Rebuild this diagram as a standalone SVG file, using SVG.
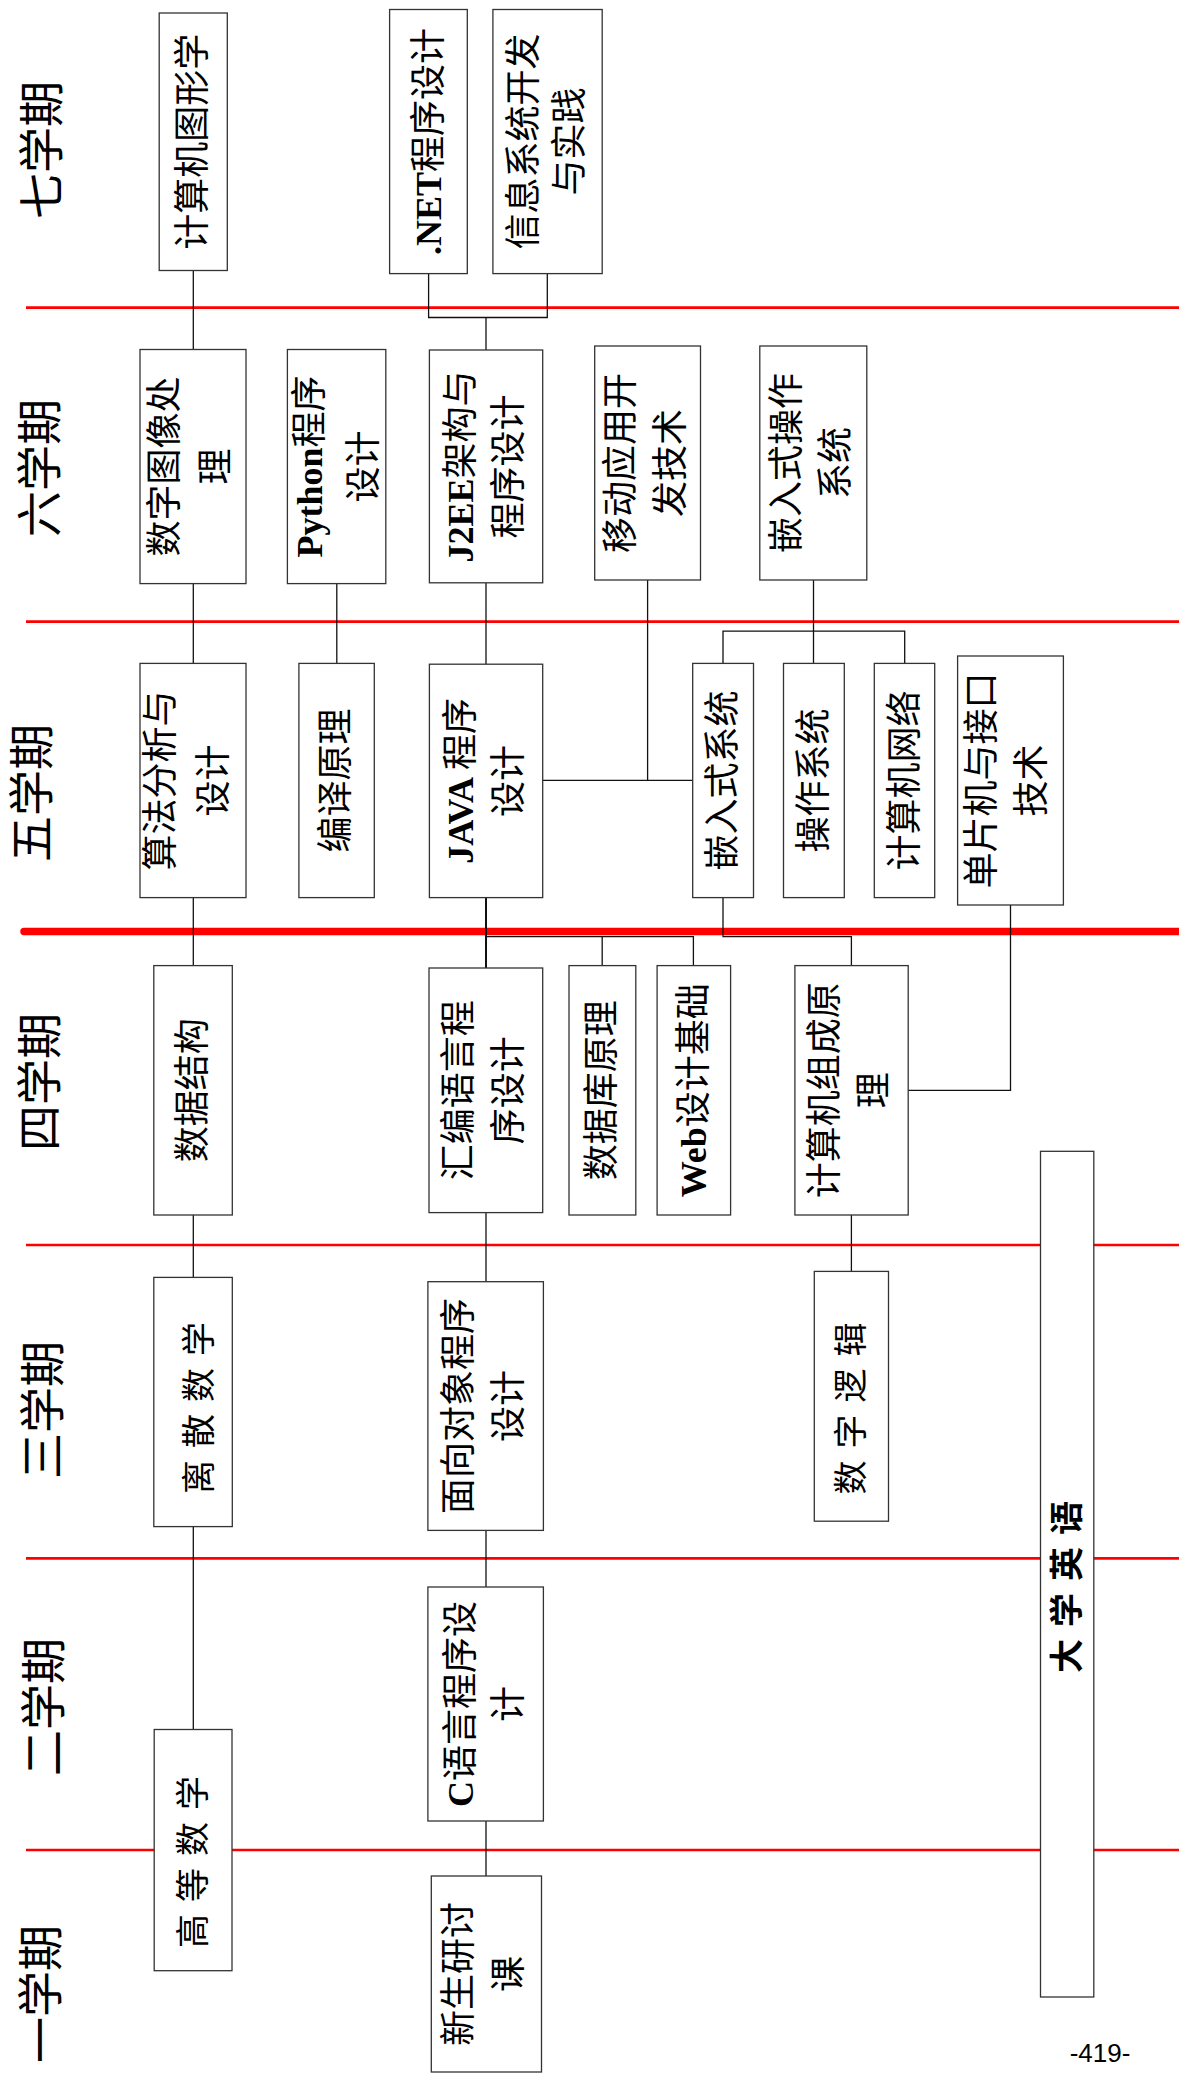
<svg xmlns="http://www.w3.org/2000/svg" width="1179" height="2074" viewBox="0 0 1179 2074">
<style>
.bg{fill:#fff}
.red{stroke:#ff0000;stroke-width:2.6;fill:none}
.redt{stroke:#ff0000;stroke-width:7.5;fill:none;stroke-linecap:round}
.c{stroke:#111;stroke-width:1.3;fill:none}
.box{fill:#fff;stroke:#333;stroke-width:1.3}
.t{font-family:"Liberation Serif","Noto Sans CJK SC",serif;font-size:36px;fill:#000;text-anchor:middle;dominant-baseline:central}
.sem{font-family:"Liberation Serif","Noto Sans CJK SC",serif;font-size:46px;fill:#000;text-anchor:middle;dominant-baseline:central}
.sp{font-size:34px;letter-spacing:12px}
.en{font-family:"Liberation Sans","Noto Sans CJK SC",sans-serif;font-size:34px;font-weight:bold;fill:#000;text-anchor:middle;dominant-baseline:central;letter-spacing:12px}
.b{font-weight:bold}
.pg{font-family:"Liberation Sans",sans-serif;font-size:26px;fill:#000;text-anchor:middle}
</style>
<rect class="bg" x="0" y="0" width="1179" height="2074"/>

<g id="semester-lines">
<line class="red" x1="26" y1="307.6" x2="1179" y2="307.6"/>
<line class="red" x1="26" y1="621.6" x2="1179" y2="621.6"/>
<line class="redt" x1="24" y1="931.6" x2="1182" y2="931.6"/>
<line class="red" x1="26" y1="1245" x2="1179" y2="1245"/>
<line class="red" x1="26" y1="1558.4" x2="1179" y2="1558.4"/>
<line class="red" x1="26" y1="1850" x2="1179" y2="1850"/>
</g>

<g id="semester-labels">
<text class="sem" transform="translate(42,150) rotate(-90)">七学期</text>
<text class="sem" transform="translate(40,468) rotate(-90)">六学期</text>
<text class="sem" transform="translate(32,793) rotate(-90)">五学期</text>
<text class="sem" transform="translate(40,1082) rotate(-90)">四学期</text>
<text class="sem" transform="translate(43,1410) rotate(-90)">三学期</text>
<text class="sem" transform="translate(44,1707) rotate(-90)">二学期</text>
<text class="sem" transform="translate(41,1994) rotate(-90)">一学期</text>
</g>

<g id="connectors">
<line class="c" x1="193.3" y1="270.5" x2="193.3" y2="349.5"/>
<polyline class="c" points="428.6,273.6 428.6,317.5 547.3,317.5 547.3,273.6"/>
<line class="c" x1="486" y1="317.5" x2="486" y2="350"/>
<line class="c" x1="193.3" y1="583.6" x2="193.3" y2="663.4"/>
<line class="c" x1="336.8" y1="583.6" x2="336.8" y2="663.4"/>
<line class="c" x1="486" y1="582.8" x2="486" y2="664.2"/>
<line class="c" x1="647.6" y1="580" x2="647.6" y2="780.3"/>
<line class="c" x1="542.7" y1="780.3" x2="692.7" y2="780.3"/>
<line class="c" x1="813.5" y1="580" x2="813.5" y2="663.4"/>
<polyline class="c" points="723,663.4 723,631.1 904.7,631.1 904.7,663.4"/>
<line class="c" x1="193.3" y1="897.6" x2="193.3" y2="965.6"/>
<line class="c" x1="486" y1="897.6" x2="486" y2="968" style="stroke-width:2"/>
<polyline class="c" points="486,936.6 693.4,936.6 693.4,965.6"/>
<line class="c" x1="602.2" y1="936.6" x2="602.2" y2="965.6"/>
<polyline class="c" points="723,897.6 723,936.6 851.4,936.6 851.4,965.6"/>
<polyline class="c" points="1010.5,905 1010.5,1090.4 908.2,1090.4"/>
<line class="c" x1="193.3" y1="1215" x2="193.3" y2="1277.4"/>
<line class="c" x1="486" y1="1212.6" x2="486" y2="1281.7"/>
<line class="c" x1="851.4" y1="1215" x2="851.4" y2="1271.4"/>
<line class="c" x1="193.3" y1="1526.6" x2="193.3" y2="1729.5"/>
<line class="c" x1="486" y1="1530.4" x2="486" y2="1587"/>
<line class="c" x1="486" y1="1821" x2="486" y2="1876"/>
</g>

<g id="n-graphics"><rect class="box" x="159.2" y="13" width="68.1" height="257.5"/>
<text class="t" transform="translate(193.3,141.7) rotate(-90)">计算机图形学</text></g>
<g id="n-dotnet"><rect class="box" x="389.6" y="9.5" width="77.7" height="264.1"/>
<text class="t" transform="translate(428.6,141.5) rotate(-90)"><tspan class="b">.NET</tspan>程序设计</text></g>
<g id="n-infosys"><rect class="box" x="492.9" y="9.5" width="109.3" height="264.1"/>
<text class="t" transform="translate(524.3,141.5) rotate(-90)">信息系统开发</text>
<text class="t" transform="translate(570.2,141.5) rotate(-90)">与实践</text></g>

<g id="n-dip"><rect class="box" x="140" y="349.5" width="106" height="234.1"/>
<text class="t" transform="translate(164.6,466.5) rotate(-90)">数字图像处</text>
<text class="t" transform="translate(216.2,466.5) rotate(-90)">理</text></g>
<g id="n-python"><rect class="box" x="287.4" y="349.5" width="98.4" height="234.1"/>
<text class="t" transform="translate(310,466.5) rotate(-90)"><tspan class="b">Python</tspan>程序</text>
<text class="t" transform="translate(363.6,466.5) rotate(-90)">设计</text></g>
<g id="n-j2ee"><rect class="box" x="429.4" y="350" width="113.3" height="232.8"/>
<text class="t" transform="translate(461.2,466.4) rotate(-90)"><tspan class="b">J2EE</tspan>架构与</text>
<text class="t" transform="translate(509,466.4) rotate(-90)">程序设计</text></g>
<g id="n-mobile"><rect class="box" x="594.7" y="346" width="105.8" height="234"/>
<text class="t" transform="translate(621.2,463) rotate(-90)">移动应用开</text>
<text class="t" transform="translate(670.5,463) rotate(-90)">发技术</text></g>
<g id="n-embos"><rect class="box" x="759.8" y="346" width="107" height="234"/>
<text class="t" transform="translate(787,463) rotate(-90)">嵌入式操作</text>
<text class="t" transform="translate(836.4,463) rotate(-90)">系统</text></g>

<g id="n-algo"><rect class="box" x="140" y="663.4" width="106" height="234.2"/>
<text class="t" transform="translate(160.7,780.5) rotate(-90)">算法分析与</text>
<text class="t" transform="translate(214.3,780.5) rotate(-90)">设计</text></g>
<g id="n-compiler"><rect class="box" x="298.9" y="663.4" width="75.4" height="234.2"/>
<text class="t" transform="translate(335.5,780.5) rotate(-90)">编译原理</text></g>
<g id="n-java"><rect class="box" x="429.4" y="664.2" width="113.3" height="233.4"/>
<text class="t" transform="translate(461.2,780.9) rotate(-90)"><tspan class="b">JAVA </tspan>程序</text>
<text class="t" transform="translate(509,780.9) rotate(-90)">设计</text></g>
<g id="n-embsys"><rect class="box" x="692.7" y="663.4" width="60.8" height="234.2"/>
<text class="t" transform="translate(723,780.5) rotate(-90)">嵌入式系统</text></g>
<g id="n-os"><rect class="box" x="783.5" y="663.4" width="60.8" height="234.2"/>
<text class="t" transform="translate(813.9,780.5) rotate(-90)">操作系统</text></g>
<g id="n-network"><rect class="box" x="874.3" y="663.4" width="60.4" height="234.2"/>
<text class="t" transform="translate(904.5,780.5) rotate(-90)">计算机网络</text></g>
<g id="n-mcu"><rect class="box" x="957.6" y="656" width="105.8" height="249"/>
<text class="t" transform="translate(982.4,780.5) rotate(-90)">单片机与接口</text>
<text class="t" transform="translate(1031.8,780.5) rotate(-90)">技术</text></g>

<g id="n-ds"><rect class="box" x="153.8" y="965.6" width="78.5" height="249.4"/>
<text class="t" transform="translate(193.3,1090.3) rotate(-90)">数据结构</text></g>
<g id="n-asm"><rect class="box" x="429" y="968" width="113.7" height="244.6"/>
<text class="t" transform="translate(459.2,1090.3) rotate(-90)">汇编语言程</text>
<text class="t" transform="translate(509,1090.3) rotate(-90)">序设计</text></g>
<g id="n-db"><rect class="box" x="569" y="965.6" width="66.8" height="249.4"/>
<text class="t" transform="translate(602.4,1090.3) rotate(-90)">数据库原理</text></g>
<g id="n-web"><rect class="box" x="657.1" y="965.6" width="73.5" height="249.4"/>
<text class="t" transform="translate(693.9,1090.3) rotate(-90)"><tspan class="b">Web</tspan>设计基础</text></g>
<g id="n-coa"><rect class="box" x="794.9" y="965.6" width="113.3" height="249.4"/>
<text class="t" transform="translate(824.5,1090.3) rotate(-90)">计算机组成原</text>
<text class="t" transform="translate(873.9,1090.3) rotate(-90)">理</text></g>

<g id="n-discrete"><rect class="box" x="153.8" y="1277.4" width="78.5" height="249.2"/>
<text class="t sp" transform="translate(199.3,1402) rotate(-90)">离散数学</text></g>
<g id="n-oop"><rect class="box" x="427.9" y="1281.7" width="115.5" height="248.7"/>
<text class="t" transform="translate(459.2,1406) rotate(-90)">面向对象程序</text>
<text class="t" transform="translate(509,1406) rotate(-90)">设计</text></g>
<g id="n-logic"><rect class="box" x="814.3" y="1271.4" width="74.2" height="249.8"/>
<text class="t sp" transform="translate(851.4,1402.5) rotate(-90)">数字逻辑</text></g>
<g id="n-english"><rect class="box" x="1040.5" y="1151.3" width="53.3" height="845.7"/>
<text class="en" transform="translate(1067,1581) rotate(-90)">大学英语</text></g>

<g id="n-c"><rect class="box" x="427.9" y="1587" width="115.5" height="234"/>
<text class="t" transform="translate(461.2,1704) rotate(-90)"><tspan class="b">C</tspan>语言程序设</text>
<text class="t" transform="translate(509,1704) rotate(-90)">计</text></g>
<g id="n-calculus"><rect class="box" x="154.2" y="1729.5" width="77.8" height="241.2"/>
<text class="t sp" transform="translate(193.3,1856) rotate(-90)">高等数学</text></g>
<g id="n-seminar"><rect class="box" x="431.3" y="1876" width="110.2" height="196"/>
<text class="t" transform="translate(459.2,1974) rotate(-90)">新生研讨</text>
<text class="t" transform="translate(509,1974) rotate(-90)">课</text></g>

<text class="pg" x="1100" y="2062">-419-</text>
</svg>
